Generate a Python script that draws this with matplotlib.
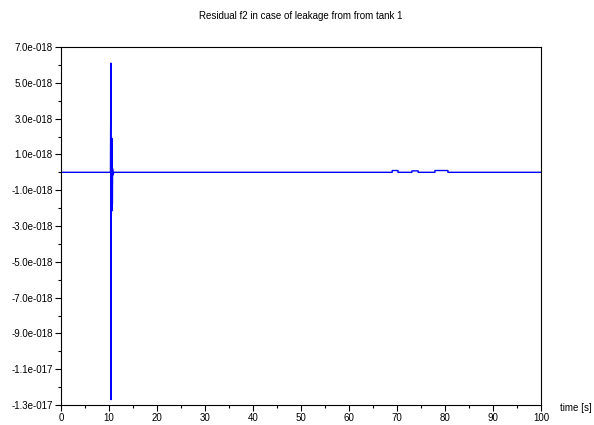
import matplotlib
matplotlib.use("Agg")
import matplotlib.pyplot as plt
from matplotlib.ticker import MultipleLocator, FuncFormatter

# residual f2 over time
t = [0, 10.3, 10.4, 10.4, 10.45, 10.55, 10.6, 10.62, 10.66, 10.7, 10.75, 10.8,
     11.0, 69.0, 69.0, 70.2, 70.2, 73.1, 73.1, 74.4, 74.4, 77.9, 77.9, 80.6, 80.6, 100]
r = [0, 0, 6.1e-18, -1.27e-17, 0, 0, 1.9e-18, -2.15e-18, 1.5e-18, -1.8e-18, 2.0e-19, -1.5e-19,
     0, 0, 1.0e-19, 1.0e-19, 0, 0, 8.0e-20, 8.0e-20, 0, 0, 1.0e-19, 1.0e-19, 0, 0]

yticks = [7e-18, 5e-18, 3e-18, 1e-18, -1e-18, -3e-18, -5e-18, -7e-18, -9e-18, -1.1e-17, -1.3e-17]


def sci_label(v, pos):
    s = "%.1e" % v
    mant, ex = s.split("e")
    sign = ex[0]
    digits = ex[1:].lstrip("0")
    return "%se%s%03d" % (mant, sign, int(digits))


plt.rcParams['font.family'] = ['Liberation Sans', 'DejaVu Sans']
fig = plt.figure(figsize=(5.94, 4.25), dpi=100)
ax = fig.add_axes([0.1027, 0.047, 0.8081, 0.8424])
ax.plot(t, r, color='#0000ff', linewidth=1.0)
ax.set_xlim(0, 100)
ax.set_ylim(-1.3e-17, 7e-18)
ax.set_yticks(yticks)
ax.yaxis.set_major_formatter(FuncFormatter(sci_label))
ax.yaxis.set_minor_locator(MultipleLocator(2e-18))
ax.xaxis.set_major_locator(MultipleLocator(10))
ax.xaxis.set_minor_locator(MultipleLocator(5))
ax.tick_params(which='major', direction='out', length=4, width=0.8, labelsize=7, pad=2)
ax.tick_params(which='minor', direction='out', length=2, width=0.8)
ax.yaxis.get_offset_text().set_visible(False)
for s in ax.spines.values():
    s.set_linewidth(0.8)
ax.set_title('Residual f2 in case of leakage from from tank 1', fontsize=7, pad=20)
fig.text(0.943, 0.04, 'time [s]', fontsize=7, ha='left', va='center')
fig.savefig('out.png', dpi=100)
